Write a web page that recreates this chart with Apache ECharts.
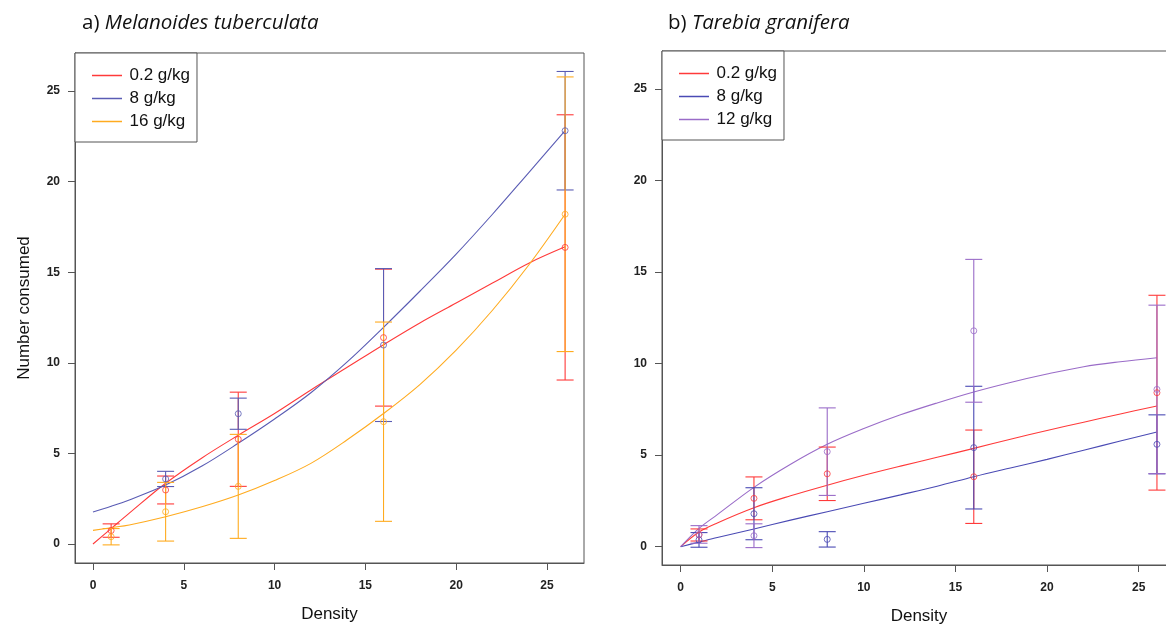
<!DOCTYPE html>
<html>
<head>
<meta charset="utf-8">
<script src="https://cdn.jsdelivr.net/npm/echarts@6/dist/echarts.min.js"></script>
<style>
  html, body { margin: 0; padding: 0; background: #fff; }
  #chart { width: 1166px; height: 626px; }
</style>
</head>
<body>
<div id="chart"></div>
<script>
// Prey densities offered in the feeding trials
const densities = [1, 4, 8, 16, 26];
const tickValues = [0, 5, 10, 15, 20, 25];

// a) Melanoides tuberculata: mean number consumed and standard error
const melRedMean = [0.74, 2.98, 5.78, 11.39, 16.37];
const melRedSE = [0.37, 0.77, 2.6, 3.78, 7.32];
const melBlueMean = [null, 3.59, 7.19, 10.98, 22.81];
const melBlueSE = [null, 0.42, 0.86, 4.22, 3.27];
const melOrangeMean = [0.4, 1.78, 3.18, 6.75, 18.2];
const melOrangeSE = [0.45, 1.62, 2.87, 5.5, 7.58];

// b) Tarebia granifera: mean number consumed and standard error
const tgRedMean = [0.64, 2.64, 3.98, 3.82, 8.41];
const tgRedSE = [0.33, 1.17, 1.46, 2.55, 5.32];
const tgBlueMean = [0.37, 1.8, 0.4, 5.41, 5.59];
const tgBlueSE = [0.4, 1.42, 0.42, 3.35, 1.61];
const tgPurpleMean = [0.67, 0.6, 5.19, 11.79, 8.59];
const tgPurpleSE = [0.48, 0.65, 2.39, 3.9, 4.6];

// Fitted functional-response curves, sampled along density
const fitX = [0, 1, 2, 4, 6, 8, 10, 12, 14, 16, 18, 20, 22, 24, 26];
const melRedFit = [0, 0.85, 1.7, 3.35, 4.75, 6.0, 7.2, 8.5, 9.75, 11.0, 12.2, 13.3, 14.4, 15.5, 16.4];
const melBlueFit = [1.77, 2.08, 2.43, 3.25, 4.3, 5.56, 6.9, 8.35, 10.05, 11.96, 13.95, 16.0, 18.2, 20.5, 22.81];
const melOrangeFit = [0.75, 0.9, 1.05, 1.5, 2.05, 2.7, 3.5, 4.45, 5.75, 7.2, 8.8, 10.7, 12.9, 15.4, 18.2];
const tgRedFit = [0, 0.8, 1.3, 2.13, 2.78, 3.36, 3.9, 4.4, 4.88, 5.37, 5.87, 6.35, 6.8, 7.25, 7.68];
const tgBlueFit = [0, 0.25, 0.5, 0.97, 1.45, 1.91, 2.37, 2.83, 3.3, 3.82, 4.3, 4.77, 5.27, 5.77, 6.26];
const tgPurpleFit = [0, 1.0, 1.75, 3.24, 4.5, 5.59, 6.45, 7.2, 7.85, 8.45, 8.97, 9.43, 9.83, 10.1, 10.32];

const leftNames = ['0.2 g/kg', '8 g/kg', '16 g/kg'];
const rightNames = ['0.2 g/kg', '8 g/kg', '12 g/kg'];

const RED = '#ff3a3a';
const BLUE_A = '#5a5cb4';
const ORANGE = '#ffab1f';
const BLUE_B = '#4a4ab4';
const PURPLE = '#9a6cc8';

const AXIS_FONT = 'Liberation Sans, Arial, sans-serif';

function pairs(xs, ys) {
  const out = [];
  xs.forEach((x, i) => { if (ys[i] !== null) out.push([x, ys[i]]); });
  return out;
}
function triples(xs, ms, ss) {
  const out = [];
  xs.forEach((x, i) => { if (ms[i] !== null) out.push([x, ms[i], ss[i]]); });
  return out;
}

// Vertical mean ± SE bar with horizontal caps
function errorBars(color) {
  return function (params, api) {
    const x = api.value(0), m = api.value(1), s = api.value(2);
    const top = api.coord([x, m + s]);
    const bot = api.coord([x, m - s]);
    const hw = 8.5;
    const st = { stroke: color, lineWidth: 1.1 };
    return {
      type: 'group',
      children: [
        { type: 'line', shape: { x1: top[0], y1: top[1], x2: bot[0], y2: bot[1] }, style: st },
        { type: 'line', shape: { x1: top[0] - hw, y1: top[1], x2: top[0] + hw, y2: top[1] }, style: st },
        { type: 'line', shape: { x1: bot[0] - hw, y1: bot[1], x2: bot[0] + hw, y2: bot[1] }, style: st }
      ]
    };
  };
}

function groupSeries(name, color, idx, fit, means, ses) {
  return [
    {
      name: name, type: 'line', xAxisIndex: idx, yAxisIndex: idx,
      data: pairs(fitX, fit), smooth: 0.35, symbol: 'none',
      lineStyle: { color: color, width: 1.1 }, itemStyle: { color: color },
      z: 2, silent: true
    },
    {
      name: name, type: 'custom', xAxisIndex: idx, yAxisIndex: idx,
      data: triples(densities, means, ses),
      renderItem: errorBars(color),
      encode: { x: 0, y: [1] }, itemStyle: { color: color },
      z: 3, silent: true
    },
    {
      name: name, type: 'scatter', xAxisIndex: idx, yAxisIndex: idx,
      data: pairs(densities, means), symbol: 'circle', symbolSize: 6,
      itemStyle: { color: 'transparent', borderColor: color, borderWidth: 1 },
      z: 4, silent: true
    }
  ];
}

function xAxisFor(gridIndex, min, max) {
  return {
    type: 'value', gridIndex: gridIndex, min: min, max: max,
    name: 'Density', nameLocation: 'middle', nameGap: 43,
    nameTextStyle: { fontFamily: AXIS_FONT, fontSize: 17, color: '#111' },
    axisLine: { show: true, onZero: false, lineStyle: { color: '#555', width: 1 } },
    axisTick: { show: true, customValues: tickValues, length: 7, lineStyle: { color: '#555' } },
    axisLabel: { customValues: tickValues, margin: 17, fontFamily: AXIS_FONT, fontSize: 12, fontWeight: 'bold', color: '#222' },
    splitLine: { show: false }
  };
}
function yAxisFor(gridIndex, min, max, withName) {
  return {
    type: 'value', gridIndex: gridIndex, min: min, max: max,
    name: withName ? 'Number consumed' : '', nameLocation: 'middle', nameGap: 42,
    nameTextStyle: { fontFamily: AXIS_FONT, fontSize: 17, color: '#111' },
    axisLine: { show: true, onZero: false, lineStyle: { color: '#555', width: 1 } },
    axisTick: { show: true, customValues: tickValues, length: 7, lineStyle: { color: '#555' } },
    axisLabel: { customValues: tickValues, margin: 15, fontFamily: AXIS_FONT, fontSize: 12, fontWeight: 'bold', color: '#222' },
    splitLine: { show: false }
  };
}

function legendFor(left, top, names, colors) {
  return {
    left: left, top: top, orient: 'vertical',
    backgroundColor: '#fff', borderColor: '#555', borderWidth: 1,
    padding: [14, 7, 12, 17],
    itemWidth: 33, itemHeight: 1.5, itemGap: 6,
    icon: 'path://M0,0H40V2H0Z',
    selectedMode: false,
    textStyle: { fontFamily: AXIS_FONT, fontSize: 17, lineHeight: 17, color: '#111', padding: [0, 0, 0, 1] },
    data: names.map((n, i) => ({ name: n, itemStyle: { color: colors[i] } }))
  };
}

const titleRich = {
  n: { fontFamily: 'Open Sans, Noto Sans, sans-serif', fontSize: 20.5, fontWeight: 'normal', color: '#111' },
  i: { fontFamily: 'Open Sans, Noto Sans, sans-serif', fontSize: 20.5, fontWeight: 'normal', fontStyle: 'italic', color: '#111' }
};

const option = {
  animation: false,
  backgroundColor: '#fff',
  title: [
    { text: '{n|a) }{i|Melanoides tuberculata}', left: 77, top: 8, textStyle: { fontWeight: 'normal', rich: titleRich } },
    { text: '{n|b) }{i|Tarebia granifera}', left: 663, top: 8, textStyle: { fontWeight: 'normal', rich: titleRich } }
  ],
  legend: [
    legendFor(75, 53, leftNames, [RED, BLUE_A, ORANGE]),
    legendFor(662, 51, rightNames, [RED, BLUE_B, PURPLE])
  ],
  grid: [
    { left: 75, top: 53, width: 509, height: 510, show: true, borderColor: '#555', borderWidth: 1,
      backgroundColor: 'transparent', outerBoundsMode: 'none', containLabel: false },
    { left: 662, top: 51, width: 514, height: 514, show: true, borderColor: '#555', borderWidth: 1,
      backgroundColor: 'transparent', outerBoundsMode: 'none', containLabel: false }
  ],
  xAxis: [xAxisFor(0, -0.99, 27.04), xAxisFor(1, -1.02, 27.04)],
  yAxis: [yAxisFor(0, -1.05, 27.1, true), yAxisFor(1, -1.0, 27.07, false)],
  series: [].concat(
    groupSeries(leftNames[0], RED, 0, melRedFit, melRedMean, melRedSE),
    groupSeries(leftNames[1], BLUE_A, 0, melBlueFit, melBlueMean, melBlueSE),
    groupSeries(leftNames[2], ORANGE, 0, melOrangeFit, melOrangeMean, melOrangeSE),
    groupSeries(rightNames[0], RED, 1, tgRedFit, tgRedMean, tgRedSE),
    groupSeries(rightNames[1], BLUE_B, 1, tgBlueFit, tgBlueMean, tgBlueSE),
    groupSeries(rightNames[2], PURPLE, 1, tgPurpleFit, tgPurpleMean, tgPurpleSE)
  )
};

const chart = echarts.init(document.getElementById('chart'), null, { renderer: 'canvas' });
chart.setOption(option);
</script>
</body>
</html>
